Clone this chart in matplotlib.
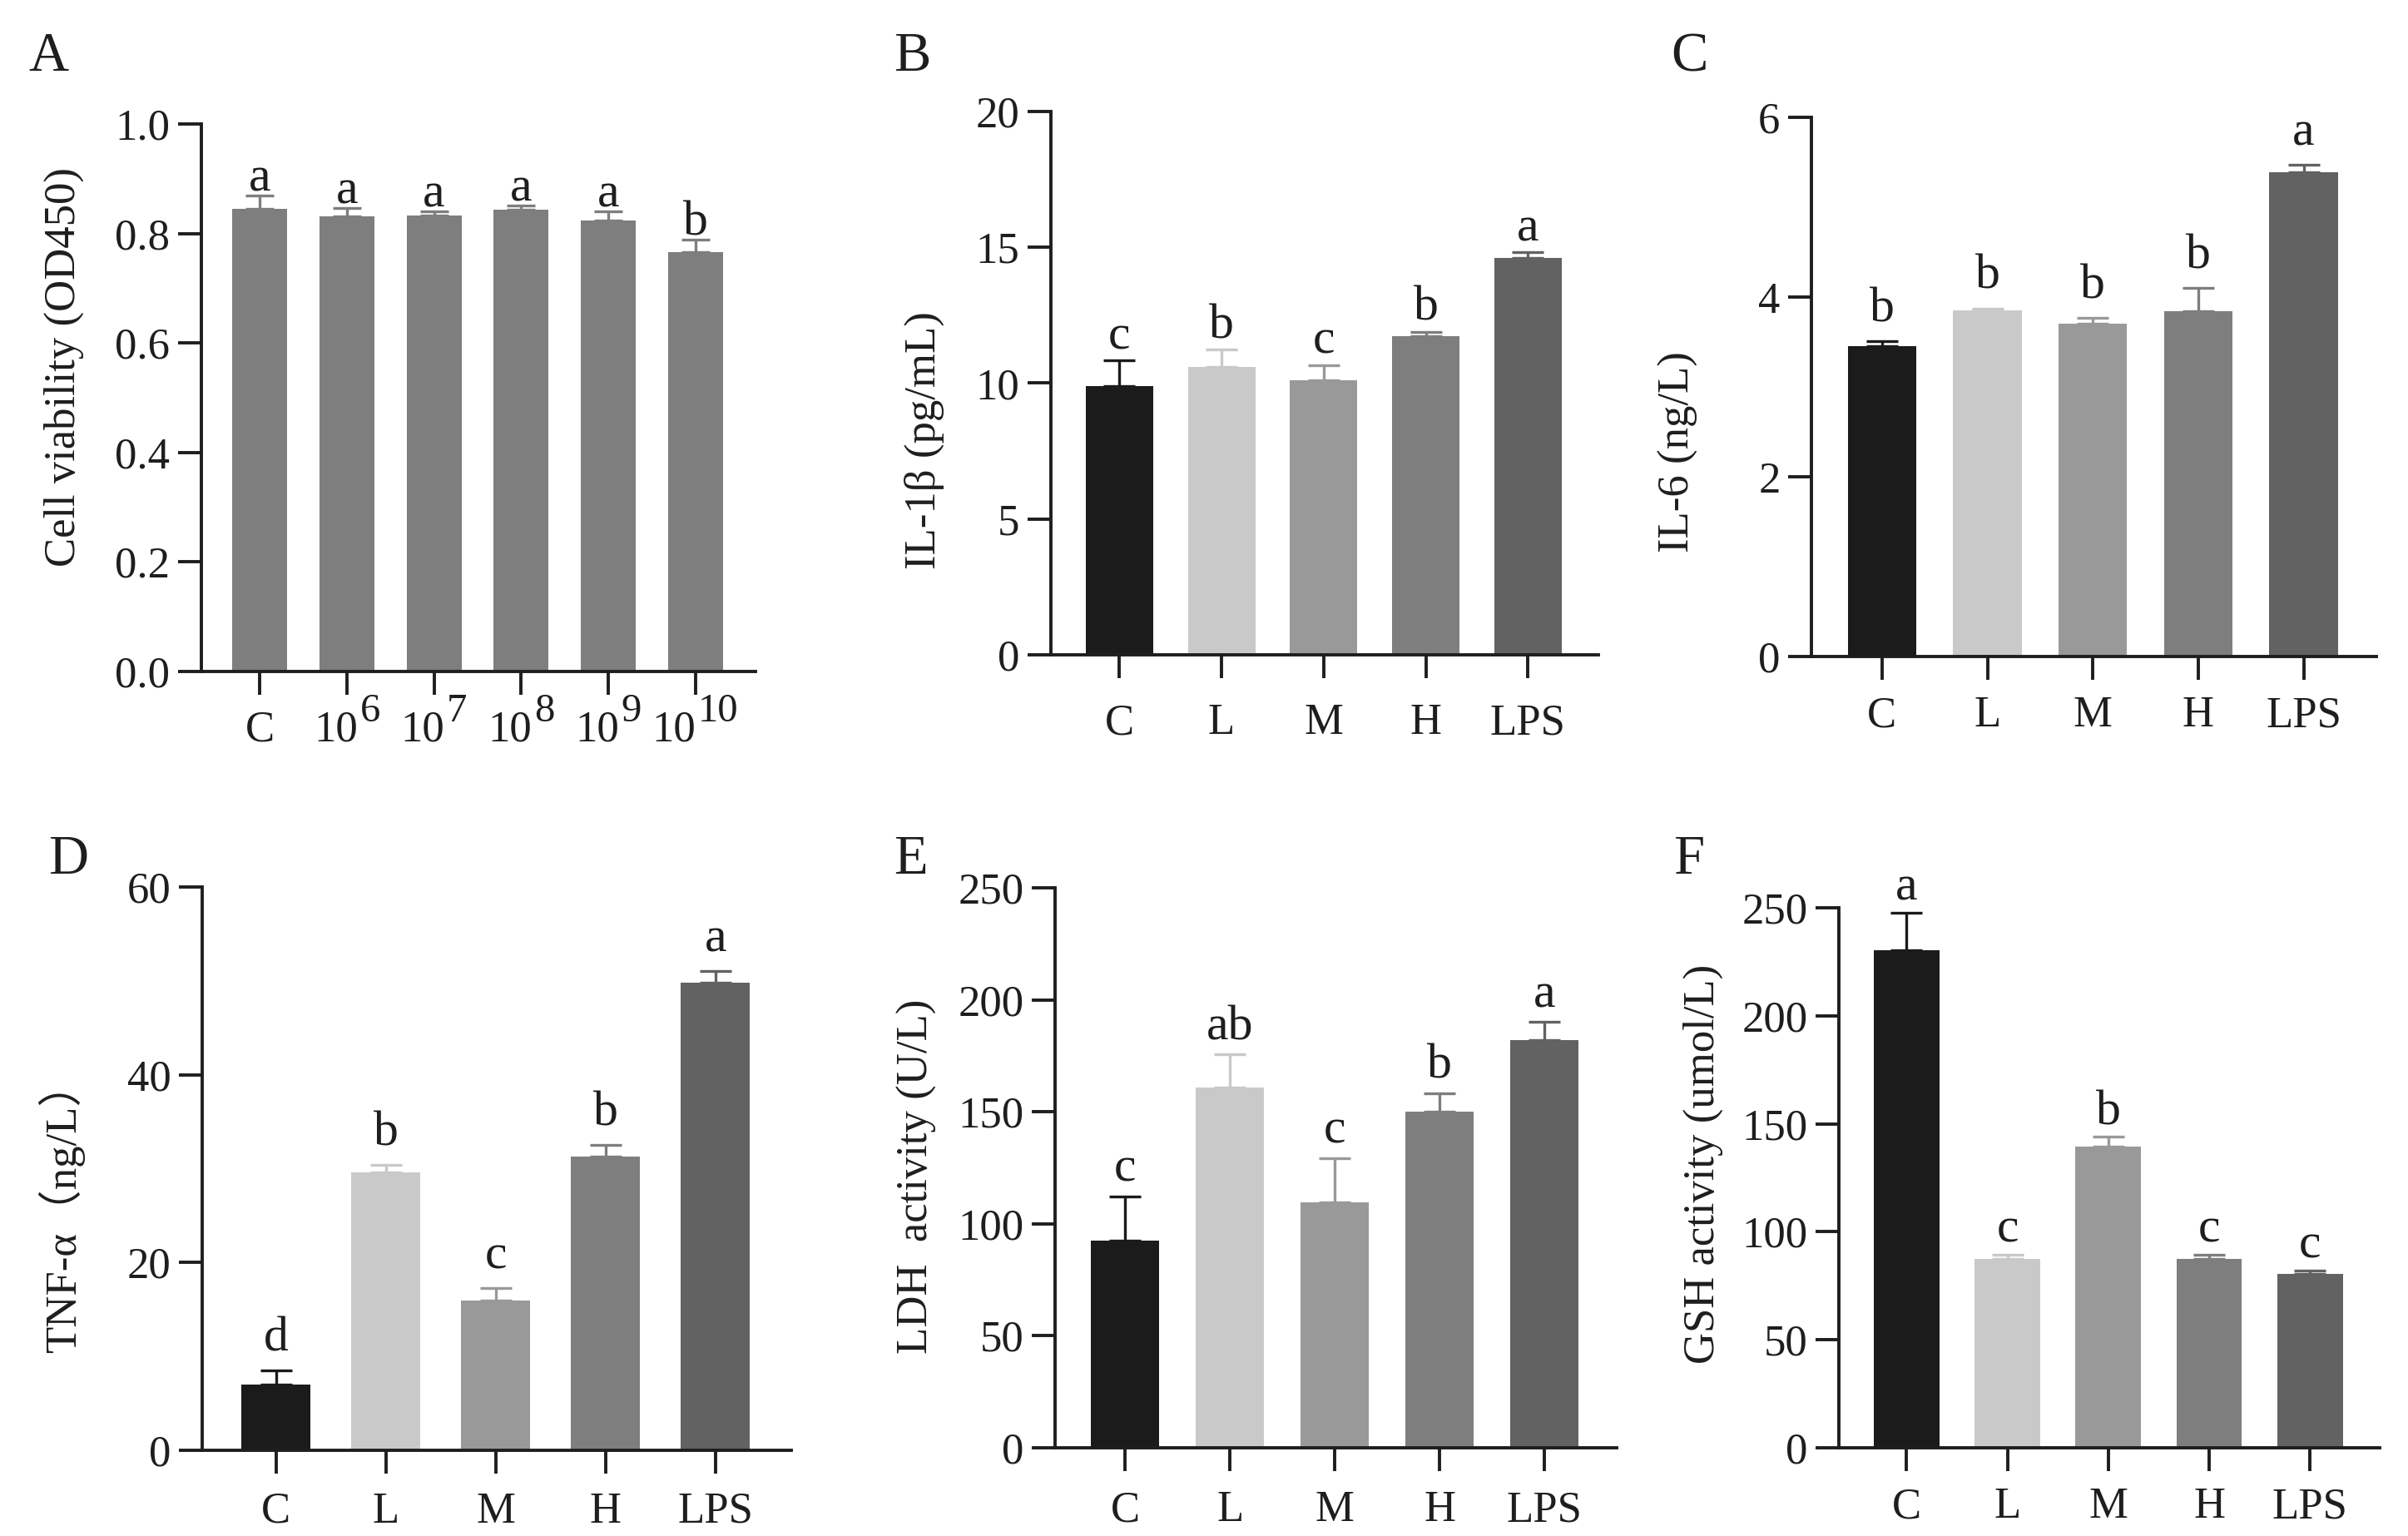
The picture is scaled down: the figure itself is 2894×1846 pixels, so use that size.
import matplotlib
matplotlib.use('Agg')
import matplotlib.pyplot as plt

plt.rcParams['font.family'] = ['Liberation Serif', 'Noto Sans CJK SC']

# ---- data ----
dose_base = ['C', '10', '10', '10', '10', '10']
dose_exp = ['', '6', '7', '8', '9', '10']
groups = ['C', 'L', 'M', 'H', 'LPS']

viability = [0.845, 0.831, 0.833, 0.844, 0.823, 0.766]
viability_err = [0.024, 0.016, 0.007, 0.007, 0.017, 0.023]
viability_sig = ['a', 'a', 'a', 'a', 'a', 'b']

il1b = [9.89, 10.61, 10.11, 11.74, 14.62]
il1b_err = [0.94, 0.63, 0.56, 0.15, 0.20]
il1b_sig = ['c', 'b', 'c', 'b', 'a']

il6 = [3.45, 3.855, 3.70, 3.84, 5.385]
il6_err = [0.06, 0.02, 0.07, 0.26, 0.085]
il6_sig = ['b', 'b', 'b', 'b', 'a']

tnfa = [7.03, 29.58, 15.99, 31.25, 49.84]
tnfa_err = [1.46, 0.84, 1.30, 1.30, 1.20]
tnfa_sig = ['d', 'b', 'c', 'b', 'a']

ldh = [92.5, 160.8, 109.4, 150.0, 182.2]
ldh_err = [19.7, 14.8, 19.9, 8.4, 7.9]
ldh_sig = ['c', 'ab', 'c', 'b', 'a']

gsh = [230.4, 87.4, 139.3, 87.6, 80.6]
gsh_err = [17.3, 2.0, 4.6, 1.8, 1.4]
gsh_sig = ['a', 'c', 'b', 'c', 'c']

group_colors = ['#1b1b1b', '#c9c9c9', '#999999', '#7e7e7e', '#626262']
text_color = '#1e1e1e'

W, H = 2894, 1846
fig = plt.figure(figsize=(W / 100, H / 100), dpi=100)
FS = 38


def px_axes(l, r, t, b):
    return fig.add_axes([l / W, 1 - b / H, (r - l) / W, (b - t) / H])


def panel(box, letter, letter_xy, labels, vals, errs, sig, colors, ymax, yticks, yticklabels,
          ylabel, ylabel_xy, width, xpad, sig_gap, capsize=14):
    ax = px_axes(*box)
    x = list(range(len(vals)))
    ax.bar(x, vals, width=width, color=colors, linewidth=0, zorder=2)
    for xi, v, e, c in zip(x, vals, errs, colors):
        ax.errorbar(xi, v, yerr=[[0], [e]], color=c, capsize=capsize, elinewidth=2.4,
                    capthick=2.4, zorder=1)
        ax.annotate(sig[xi], (xi, v + e), xytext=(0, sig_gap), textcoords='offset points',
                    ha='center', va='baseline', fontsize=43, color=text_color)
    ax.set_xlim(-0.67, len(vals) - 1 + 0.69)
    ax.set_ylim(0, ymax)
    ax.set_yticks(yticks)
    ax.set_yticklabels(yticklabels)
    ax.set_xticks(x)
    ax.set_xticklabels(labels if labels else [''] * len(x))
    for s in ['top', 'right']:
        ax.spines[s].set_visible(False)
    for s in ['left', 'bottom']:
        ax.spines[s].set_linewidth(2.8)
        ax.spines[s].set_color(text_color)
    ax.tick_params(length=20, width=2.8, color=text_color, labelsize=FS, labelcolor=text_color)
    ax.tick_params(axis='y', pad=7)
    ax.tick_params(axis='x', pad=xpad)
    fig.text(ylabel_xy[0] / W, 1 - ylabel_xy[1] / H, ylabel, rotation=90, ha='center',
             va='center', fontsize=FS, color=text_color)
    fig.text(letter_xy[0] / W, 1 - letter_xy[1] / H, letter, ha='left', va='baseline',
             fontsize=48, color=text_color)
    return ax


axA = panel((242, 908, 149, 807), 'A', (34, 85), None, viability, viability_err, viability_sig,
            ['#7e7e7e'] * 6, 1.0, [0, 0.2, 0.4, 0.6, 0.8, 1.0],
            ['0.0', '0.2', '0.4', '0.6', '0.8', '1.0'],
            'Cell viability (OD450)', (77, 441), 0.63, 10, 4, capsize=12)

# dose labels of panel A: base number plus a large raised exponent
exp_fs = 35
for i, (b, e) in enumerate(zip(dose_base, dose_exp)):
    base_w = len(b) * 0.5 * FS if e else 0
    exp_w = len(e) * 0.5 * exp_fs
    gap = 2 if e else 0
    left = -(base_w + gap + exp_w) / 2
    if e:
        axA.annotate(b, (i, 0), xytext=(left, -60), textcoords='offset points',
                     ha='left', va='baseline', fontsize=FS, color=text_color,
                     annotation_clip=False)
        axA.annotate(e, (i, 0), xytext=(left + base_w + gap, -43), textcoords='offset points',
                     ha='left', va='baseline', fontsize=exp_fs, color=text_color,
                     annotation_clip=False)
    else:
        axA.annotate(b, (i, 0), xytext=(0, -60), textcoords='offset points',
                     ha='center', va='baseline', fontsize=FS, color=text_color,
                     annotation_clip=False)

panel((1263, 1921, 134, 787), 'B', (1074, 85), groups, il1b, il1b_err, il1b_sig,
      group_colors, 20, [0, 5, 10, 15, 20], ['0', '5', '10', '15', '20'],
      'IL-1β (pg/mL)', (1111, 529), 0.66, 22, 10)

panel((2177, 2856, 141, 789), 'C', (2008, 85), groups, il6, il6_err, il6_sig,
      group_colors, 6, [0, 2, 4, 6], ['0', '2', '4', '6'],
      'IL-6 (ng/L)', (2017, 543), 0.65, 14, 17)

panel((243, 951, 1066, 1743), 'D', (58, 1050), groups, tnfa, tnfa_err, tnfa_sig,
      group_colors, 60, [0, 20, 40, 60], ['0', '20', '40', '60'],
      'TNF-α（ng/L）', (74, 1451), 0.63, 16, 17)

panel((1268, 1943, 1067, 1740), 'E', (1074, 1050), groups, ldh, ldh_err, ldh_sig,
      group_colors, 250, [0, 50, 100, 150, 200, 250], ['0', '50', '100', '150', '200', '250'],
      'LDH  activity (U/L)', (1102, 1414), 0.65, 17, 13)

panel((2210, 2860, 1091, 1740), 'F', (2011, 1050), groups, gsh, gsh_err, gsh_sig,
      group_colors, 250, [0, 50, 100, 150, 200, 250], ['0', '50', '100', '150', '200', '250'],
      'GSH activity (umol/L)', (2047, 1399), 0.65, 14, 11)

fig.savefig('out.png', dpi=100, facecolor='white')
